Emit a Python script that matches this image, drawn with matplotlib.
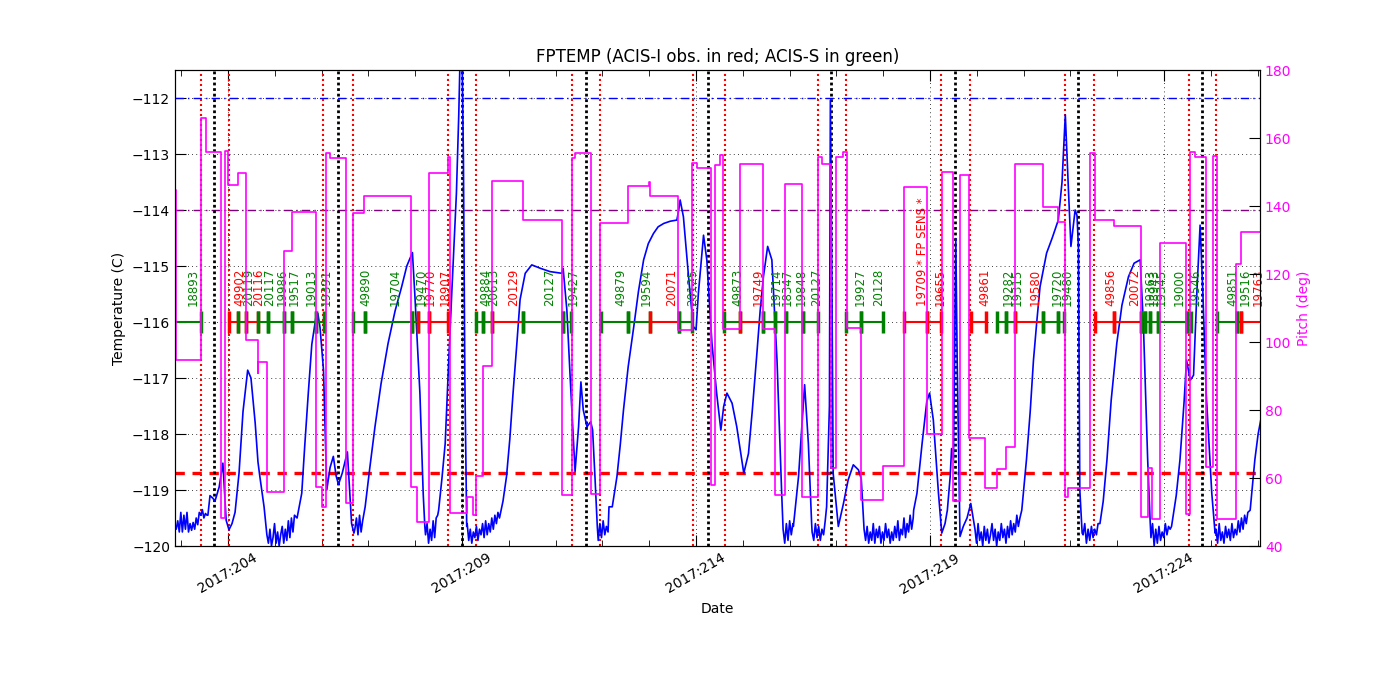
import numpy as np
import matplotlib
matplotlib.use('Agg')
import matplotlib.pyplot as plt
from matplotlib.ticker import MultipleLocator

plt.rcParams['font.family'] = 'DejaVu Sans'

# Date ticks (day of year 2017).
tick_days = [204, 209, 214, 219, 224]
tick_labels = ['2017:204', '2017:209', '2017:214', '2017:219', '2017:224']

# Perigee (black) and radiation zone (red) times.
perigee_days = [203.70, 206.35, 209.00, 211.65, 214.26, 216.89, 219.53, 222.16, 224.81]
radzone_days = [203.42, 204.02, 206.03, 206.67, 208.70, 209.30, 211.35, 211.95, 213.94,
                214.62, 216.61, 217.21, 219.24, 219.86, 221.89, 222.51, 224.53, 225.11]

# Observations: start, stop, obsid, instrument.
obs_start = [202.80, 204.02, 204.22, 204.38, 204.63, 204.85, 205.20, 205.37, 205.89,
             206.68, 206.93, 207.94, 208.05, 208.30, 209.30, 209.44, 209.63, 210.31,
             211.15, 211.96, 212.55, 213.02, 213.64, 214.60, 214.93, 215.44, 215.69,
             215.92, 216.28, 217.21, 217.52, 218.45, 218.93, 219.87, 220.44, 220.63,
             220.82, 221.41, 221.73, 222.53, 222.94, 223.51, 223.60, 223.70, 223.88,
             224.49, 225.13, 225.55, 225.65]
obs_stop = [203.42, 204.22, 204.38, 204.63, 204.85, 205.20, 205.37, 205.89, 206.04,
            206.93, 207.94, 208.05, 208.30, 208.70, 209.44, 209.63, 210.31, 211.15,
            211.33, 212.55, 213.02, 213.64, 213.92, 214.93, 215.44, 215.69, 215.92,
            216.28, 216.61, 217.52, 218.00, 218.93, 219.23, 220.19, 220.63, 220.82,
            221.41, 221.73, 221.87, 222.94, 223.51, 223.60, 223.70, 223.88, 224.49,
            224.57, 225.55, 225.65, 226.10]
obs_id = ['18893', '49902', '20119', '20116', '20117', '19986', '19517', '19013', '19391',
          '49890', '19704', '19470', '19770', '18907', '49884', '20613', '20129', '20127',
          '19427', '49879', '19594', '20071', '20125', '49873', '19749', '19714', '18347',
          '19848', '20127', '19927', '20128', '19709 * FP SENS *', '19655', '49861', '19282',
          '19315', '19580', '19720', '19480', '49856', '20072', '19363', '18943', '19345',
          '19000', '19546', '49851', '19516', '19763']
obs_inst = ['S', 'I', 'S', 'I', 'S', 'S', 'S', 'S', 'S',
            'S', 'S', 'S', 'I', 'I', 'S', 'S', 'I', 'S',
            'S', 'S', 'S', 'I', 'S', 'S', 'I', 'S', 'S',
            'S', 'S', 'S', 'S', 'I', 'I', 'I', 'S',
            'S', 'I', 'S', 'S', 'I', 'I', 'S', 'S', 'S',
            'S', 'S', 'S', 'S', 'I']

# FPTEMP smooth parts (day, degC).
fptemp_day = [203.57, 203.615, 203.68, 203.72, 203.81, 203.89, 203.96, 204.02, 204.085, 204.15,
              204.235, 204.32, 204.42, 204.49, 204.58, 204.64, 204.68, 204.77, 204.825,
              205.475, 205.575, 205.64, 205.715, 205.79, 205.89, 205.92, 205.966, 206.04, 206.11,
              206.18, 206.25, 206.31, 206.36, 206.44, 206.55, 206.64, 206.69,
              206.93, 207.03, 207.14, 207.27, 207.42, 207.57, 207.71, 207.82, 207.94, 207.99,
              208.10, 208.17, 208.205,
              208.50, 208.57, 208.64, 208.70, 208.78, 208.83, 208.88, 208.93, 208.96, 209.00,
              209.03, 209.06, 209.10,
              209.875, 209.95, 210.02, 210.09, 210.17, 210.24, 210.35, 210.49, 210.67, 210.88,
              211.13, 211.16, 211.24, 211.31, 211.415, 211.49, 211.54, 211.59, 211.67, 211.75,
              211.79, 211.84, 211.89,
              212.14, 212.21, 212.31, 212.38, 212.45, 212.55, 212.67, 212.77, 212.88, 212.98,
              213.09, 213.19, 213.31, 213.45, 213.59, 213.63, 213.66, 213.73, 213.84, 213.94,
              214.00, 214.05, 214.16, 214.23, 214.34, 214.44, 214.53, 214.59, 214.66, 214.77,
              214.87, 215.02, 215.12, 215.20, 215.30, 215.37, 215.44, 215.53, 215.62, 215.73,
              215.83,
              216.08, 216.19, 216.32, 216.40, 216.47,
              216.79, 216.85, 216.87, 216.90, 216.93, 217.04, 217.15, 217.25, 217.36, 217.47,
              217.53, 217.58,
              218.65, 218.72, 218.83, 218.93, 218.99, 219.07, 219.18, 219.25, 219.32, 219.37,
              219.43, 219.46, 219.50, 219.55, 219.58, 219.64, 219.71, 219.79, 219.87, 219.94,
              220.96, 221.06, 221.14, 221.21, 221.28, 221.35, 221.49, 221.61, 221.74, 221.82,
              221.89, 221.96, 222.01, 222.10, 222.14, 222.17, 222.20, 222.25,
              222.63, 222.70, 222.78, 222.87, 222.99, 223.10, 223.24, 223.36, 223.49, 223.56,
              223.65, 223.70,
              224.16, 224.26, 224.34, 224.43, 224.48, 224.56, 224.63, 224.70, 224.77, 224.83,
              224.90, 225.02, 225.09,
              225.84, 225.94, 226.01, 226.10]
fptemp_val = [-119.45, -119.1, -119.15, -119.2, -118.95, -118.52, -119.54, -119.71, -119.6, -119.4,
              -118.7, -117.6, -116.86, -117.0, -117.8, -118.5, -118.76, -119.3, -119.77,
              -119.5, -119.06, -118.2, -117.27, -116.4, -115.85, -115.85, -116.1, -116.86, -119.0,
              -118.6, -118.4, -118.75, -118.9, -118.7, -118.32, -119.6, -119.77,
              -119.3, -118.6, -117.87, -117.1, -116.38, -115.8, -115.37, -115.0, -114.76, -115.49,
              -117.27, -119.06, -119.65,
              -119.36, -118.8, -118.17, -117.0, -115.49, -114.6, -113.7, -112.3, -111.2, -111.2,
              -113.1, -117.0, -119.65,
              -119.2, -118.76, -118.1, -117.27, -116.4, -115.6, -115.13, -114.98, -115.04, -115.1,
              -115.13, -115.04, -115.79, -116.98, -118.67, -117.87, -117.07, -117.57, -117.87, -117.78,
              -117.93, -118.76, -119.65,
              -119.3, -119.3, -118.76, -118.2, -117.57, -116.8, -116.08, -115.45, -114.89, -114.6,
              -114.42, -114.3, -114.24, -114.2, -114.18, -114.0, -113.82, -114.12, -115.19, -116.08,
              -116.14, -115.49, -114.45, -114.89, -116.38, -117.27, -117.93, -117.51, -117.27, -117.45,
              -117.87, -118.7, -118.35, -117.6, -116.56, -115.8, -115.19, -114.65, -114.89, -116.68,
              -119.06,
              -119.65, -118.76, -117.12, -118.17, -119.6,
              -119.3, -117.5, -112.04, -115.0, -118.7, -119.65, -119.24, -118.82, -118.55, -118.64,
              -118.8, -119.54,
              -119.36, -119.06, -118.17, -117.42, -117.27, -117.75, -119.06, -119.77, -119.6, -119.36,
              -118.76, -118.26, -118.46, -114.51, -116.7, -119.83, -119.65, -119.5, -119.24, -119.6,
              -119.36, -118.46, -117.6, -116.68, -116.0, -115.37, -114.77, -114.5, -114.18, -113.5,
              -112.3, -113.7, -114.65, -114.0, -114.1, -114.65, -119.0, -119.77,
              -119.6, -119.2, -118.46, -117.4, -116.38, -115.7, -115.19, -114.95, -114.89, -116.08,
              -118.46, -119.5,
              -119.65, -119.1, -118.46, -117.4, -116.68, -117.04, -116.95, -115.49, -114.27, -115.49,
              -117.27, -119.06, -119.77,
              -119.36, -118.46, -118.0, -117.6]

# FPTEMP noisy cold stretches: start day, stop day, sampled values.
noise_start = [202.86, 204.83, 206.71, 208.22, 209.11, 211.91, 215.86, 216.48, 217.59,
               219.96, 222.27, 223.72, 225.11]
noise_stop = [203.55, 205.42, 206.91, 208.48, 209.80, 212.12, 216.07, 216.76, 218.64,
              220.92, 222.59, 224.13, 225.79]
noise_vals = [
    [-119.6, -119.7, -119.55, -119.75, -119.4, -119.75, -119.45, -119.7, -119.4, -119.75, -119.6,
     -119.72, -119.58, -119.7, -119.5, -119.62, -119.4, -119.45, -119.35, -119.5, -119.42, -119.45],
    [-119.8, -119.95, -119.7, -120.0, -119.85, -119.6, -119.95, -119.75, -120.0, -119.8, -119.65,
     -119.95, -119.7, -119.9, -119.55, -119.85, -119.5, -119.75, -119.45],
    [-119.7, -119.5, -119.8, -119.45, -119.75, -119.55, -119.4],
    [-119.8, -119.6, -119.95, -119.7, -119.9, -119.55, -119.85, -119.5, -119.45],
    [-119.6, -119.9, -119.7, -119.95, -119.75, -119.85, -119.65, -119.9, -119.7, -119.8, -119.6,
     -119.85, -119.55, -119.8, -119.6, -119.75, -119.5, -119.7, -119.45, -119.6, -119.4, -119.5],
    [-119.9, -119.6, -119.85, -119.55, -119.8, -119.65, -119.75],
    [-119.7, -119.95, -119.6, -119.9, -119.55, -119.8, -119.6],
    [-119.75, -119.9, -119.6, -119.85, -119.65, -119.9, -119.7, -119.8, -119.55],
    [-119.7, -119.9, -119.65, -119.95, -119.75, -119.9, -119.6, -119.95, -119.7, -119.85, -119.65,
     -119.95, -119.75, -119.9, -119.6, -119.85, -119.7, -119.95, -119.75, -119.9, -119.65, -119.85,
     -119.55, -119.9, -119.7, -119.8, -119.5, -119.85, -119.6, -119.75, -119.45, -119.7, -119.5],
    [-119.7, -119.95, -119.6, -119.9, -119.75, -120.0, -119.65, -119.9, -119.7, -119.95, -119.8,
     -119.6, -119.9, -119.7, -120.0, -119.75, -119.9, -119.6, -119.85, -119.7, -119.95, -119.65,
     -119.85, -119.55, -119.8, -119.6, -119.75, -119.45, -119.65, -119.5],
    [-119.8, -119.6, -119.95, -119.7, -119.9, -119.65, -119.85, -119.7, -119.8, -119.6],
    [-119.85, -119.6, -120.0, -119.7, -119.95, -119.65, -119.9, -119.75, -119.85, -119.6, -119.8,
     -119.65, -119.7],
    [-119.7, -119.95, -119.6, -119.9, -119.75, -119.95, -119.65, -119.85, -119.7, -119.9, -119.6,
     -119.85, -119.7, -119.8, -119.55, -119.75, -119.5, -119.7, -119.45, -119.6, -119.4],
]

# Pitch (deg): times where the attitude changes and the level held after it.
pitch_day = [202.80, 202.89, 203.42, 203.54, 203.85, 203.94, 204.01, 204.21, 204.38, 204.63,
             204.65, 204.83, 205.20, 205.36, 205.89, 206.00, 206.09, 206.18, 206.52, 206.68,
             206.91, 207.92, 208.04, 208.29, 208.71, 208.75, 209.11, 209.23, 209.30, 209.44,
             209.63, 210.31, 211.13, 211.34, 211.41, 211.76, 211.95, 212.54, 213.00, 213.02,
             213.62, 213.92, 214.01, 214.31, 214.41, 214.51, 214.58, 214.93, 215.44, 215.69,
             215.90, 216.27, 216.61, 216.69, 216.88, 216.99, 217.15, 217.22, 217.53, 218.00,
             218.44, 218.93, 219.26, 219.48, 219.64, 219.84, 220.18, 220.42, 220.62, 220.82,
             221.41, 221.74, 221.88, 221.95, 222.42, 222.53, 222.94, 223.51, 223.65, 223.75,
             223.91, 224.46, 224.56, 224.66, 224.89, 225.05, 225.13, 225.54, 225.65, 226.10]
pitch_val = [144.7, 94.7, 165.8, 156.0, 48.1, 156.3, 146.2, 149.6, 100.6, 91.0,
             94.2, 56.0, 126.8, 138.1, 57.5, 51.6, 155.5, 154.2, 52.6, 137.8,
             143.0, 57.5, 47.1, 149.6, 154.5, 49.6, 54.5, 49.1, 60.6, 92.9,
             147.5, 136.0, 55.0, 154.0, 155.5, 55.3, 135.1, 145.8, 147.0, 143.0,
             103.5, 152.7, 151.1, 57.9, 152.1, 155.0, 103.7, 152.4, 103.7, 55.0,
             146.4, 54.5, 154.4, 152.4, 62.8, 154.4, 156.0, 104.0, 53.5, 63.6,
             145.7, 72.9, 150.1, 53.3, 149.0, 71.9, 57.0, 62.6, 69.2, 152.4,
             139.6, 135.2, 54.5, 57.0, 155.7, 136.0, 134.0, 48.6, 62.8, 47.8,
             129.0, 49.4, 156.0, 154.3, 63.1, 154.7, 47.9, 123.0, 132.5, 132.5]

# Limits.
fp_sens_limit = -112.0
planning_limit = -114.0
acis_i_limit = -118.7

# Build the full temperature series.
t_all = list(fptemp_day)
v_all = list(fptemp_val)
for start, stop, vals in zip(noise_start, noise_stop, noise_vals):
    t_all += list(np.linspace(start, stop, len(vals)))
    v_all += vals
order = np.argsort(t_all)
t_all = np.array(t_all)[order]
v_all = np.array(v_all)[order]

fig = plt.figure(figsize=(14, 7), dpi=100)
ax = fig.add_axes([0.125, 0.22, 0.775, 0.68])

ax.plot(t_all, v_all, color='blue', lw=1.2, zorder=3)

ax.axhline(fp_sens_limit, color='blue', lw=1, dashes=(6, 3, 1, 3))
ax.axhline(planning_limit, color='purple', lw=1, dashes=(6, 3, 1, 3))
ax.axhline(acis_i_limit, color='red', lw=2.4, dashes=(2.8, 2.3))

for d in radzone_days:
    ax.axvline(d, color='red', lw=1.5, dashes=(1, 1.4))
for d in perigee_days:
    ax.axvline(d, color='black', lw=2, dashes=(1, 1))

# Observation bars and labels.
for s, e, name, inst in zip(obs_start, obs_stop, obs_id, obs_inst):
    c = 'red' if inst == 'I' else 'green'
    ax.plot([s, e], [-116, -116], color=c, lw=1.5, marker='|', ms=16, mew=2.5, zorder=4)
    ax.text((s + e) / 2, -115.72, name, rotation=90, color=c, fontsize=8.5,
            ha='left', va='bottom', zorder=5)

ax.set_xlim(202.867, 226.05)
ax.set_ylim(-120, -111.5)
ax.set_yticks(np.arange(-120, -111))
ax.set_xticks(tick_days)
ax.set_xticklabels(tick_labels, rotation=30, ha='center', fontsize=10)
ax.xaxis.set_minor_locator(MultipleLocator(1))
ax.tick_params(axis='y', labelsize=10)
ax.tick_params(which='both', direction='in', top=True)
ax.tick_params(which='major', length=8)
ax.tick_params(which='minor', length=4)
ax.grid(True, color='black', lw=0.6, dashes=(1, 4))
ax.set_xlabel('Date', fontsize=10)
ax.set_ylabel('Temperature (C)', fontsize=10)
ax.set_title('FPTEMP (ACIS-I obs. in red; ACIS-S in green)', fontsize=12)

ax2 = ax.twinx()
ax2.plot(pitch_day, pitch_val, color='magenta', lw=1.2, drawstyle='steps-post')
ax2.set_ylim(40, 180)
ax2.set_yticks(np.arange(40, 181, 20))
ax2.tick_params(axis='y', direction='in', length=8, labelsize=10, colors='magenta')
ax2.tick_params(axis='y', color='black')
ax2.set_ylabel('Pitch (deg)', color='magenta', fontsize=10)
ax2.set_xlim(202.867, 226.05)

fig.savefig('out.png', dpi=100)
